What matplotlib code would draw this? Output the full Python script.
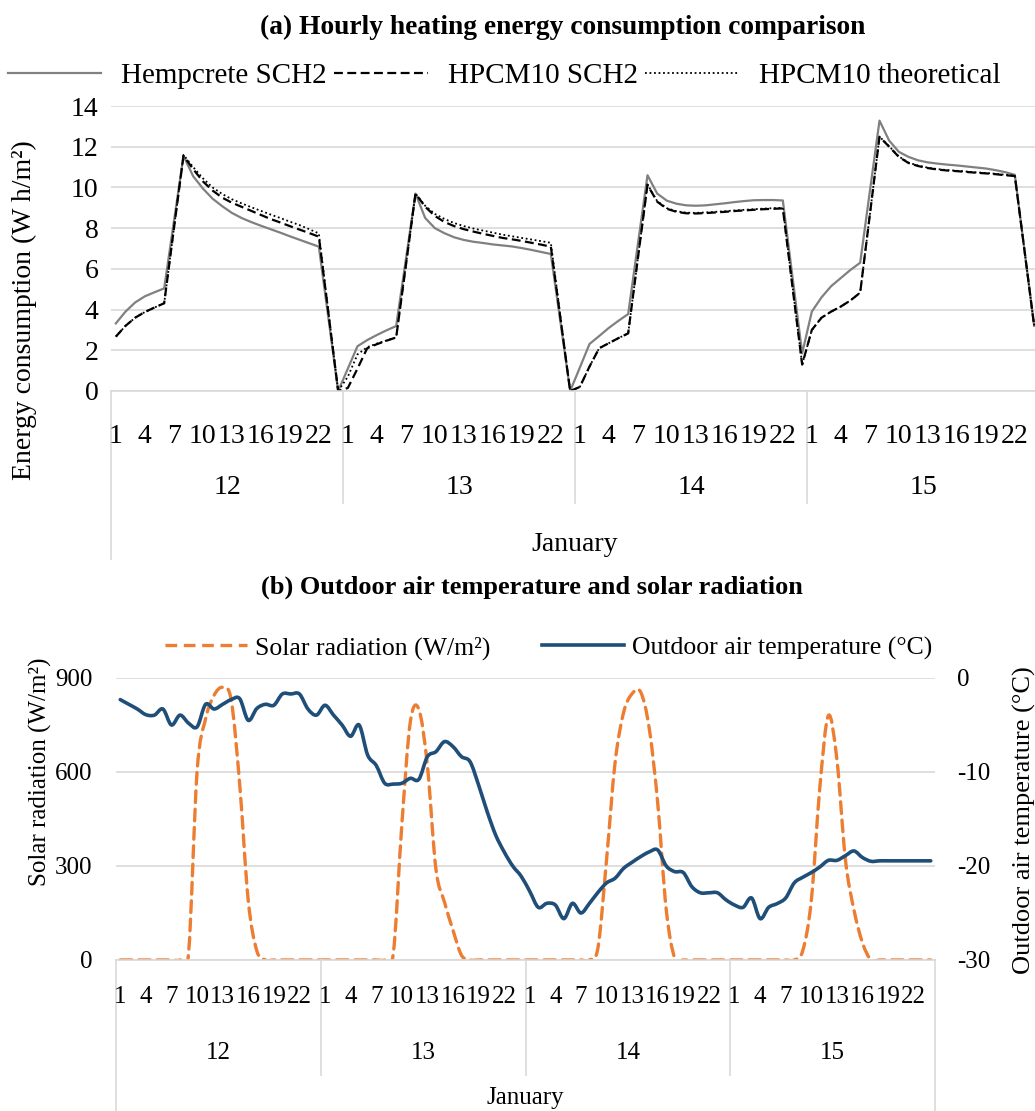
"""Hourly heating energy vs outdoor conditions, 12-15 January (two stacked panels)."""

import matplotlib.pyplot as plt
import numpy as np
from matplotlib.path import Path
from matplotlib.patches import PathPatch
from matplotlib.lines import Line2D
from matplotlib.transforms import blended_transform_factory

plt.rcParams['font.family'] = 'Liberation Serif'
plt.rcParams['axes.unicode_minus'] = False

# ---- data -------------------------------------------------------------
days = ['12', '13', '14', '15']
hour_labels = ['1', '4', '7', '10', '13', '16', '19', '22']
hour_label_idx = [0, 3, 6, 9, 12, 15, 18, 21]

hempcrete = [
    3.32, 3.9, 4.35, 4.65, 4.85, 5.04, 8.3, 11.55, 10.55, 9.95, 9.45, 9.08,
    8.75, 8.5, 8.3, 8.12, 7.95, 7.78, 7.6, 7.43, 7.26, 7.09, 3.55, 0.0,
    1.1, 2.2, 2.5, 2.75, 2.98, 3.19, 6.45, 9.7, 8.5, 8.0, 7.75, 7.55,
    7.42, 7.33, 7.27, 7.2, 7.15, 7.1, 7.02, 6.93, 6.83, 6.73, 3.37, 0.0,
    1.15, 2.31, 2.7, 3.1, 3.45, 3.78, 7.2, 10.6, 9.7, 9.35, 9.2, 9.12,
    9.1, 9.12, 9.17, 9.22, 9.28, 9.33, 9.37, 9.38, 9.38, 9.36, 5.6, 1.85,
    3.9, 4.6, 5.15, 5.55, 5.95, 6.3, 9.8, 13.28, 12.3, 11.75, 11.5, 11.33,
    11.23, 11.17, 11.12, 11.08, 11.03, 10.98, 10.93, 10.85, 10.75, 10.62, 6.9, 3.2,
]
hpcm10 = [
    2.67, 3.2, 3.6, 3.88, 4.1, 4.31, 7.95, 11.55, 10.9, 10.3, 9.85, 9.5,
    9.25, 9.05, 8.85, 8.65, 8.45, 8.28, 8.1, 7.93, 7.76, 7.58, 3.8, 0.0,
    0.15, 1.1, 2.1, 2.3, 2.47, 2.63, 6.15, 9.7, 9.05, 8.6, 8.3, 8.1,
    7.95, 7.83, 7.72, 7.62, 7.52, 7.45, 7.37, 7.28, 7.19, 7.09, 3.55, 0.0,
    0.2, 1.2, 2.1, 2.35, 2.6, 2.83, 6.5, 10.12, 9.3, 8.95, 8.8, 8.73,
    8.72, 8.74, 8.77, 8.8, 8.84, 8.87, 8.9, 8.93, 8.95, 8.97, 5.1, 1.3,
    3.0, 3.6, 3.9, 4.15, 4.45, 4.83, 8.65, 12.49, 12.0, 11.5, 11.2, 11.05,
    10.95, 10.88, 10.83, 10.8, 10.76, 10.72, 10.69, 10.65, 10.6, 10.56, 6.9, 3.2,
]
hpcm10_theoretical = [
    2.67, 3.2, 3.6, 3.88, 4.1, 4.31, 7.95, 11.6, 11.0, 10.45, 10.0, 9.68,
    9.42, 9.22, 9.03, 8.85, 8.67, 8.5, 8.32, 8.15, 7.95, 7.74, 3.87, 0.0,
    0.7, 1.8, 2.15, 2.33, 2.48, 2.63, 6.15, 9.7, 9.1, 8.7, 8.45, 8.25,
    8.1, 7.98, 7.88, 7.78, 7.68, 7.6, 7.52, 7.44, 7.36, 7.28, 3.64, 0.0,
    0.2, 1.2, 2.1, 2.35, 2.6, 2.83, 6.5, 10.15, 9.33, 8.98, 8.83, 8.76,
    8.75, 8.77, 8.8, 8.83, 8.87, 8.9, 8.93, 8.96, 8.98, 9.0, 5.15, 1.3,
    3.0, 3.6, 3.9, 4.15, 4.45, 4.83, 8.65, 12.5, 12.02, 11.52, 11.22, 11.07,
    10.97, 10.9, 10.85, 10.82, 10.78, 10.74, 10.71, 10.67, 10.62, 10.58, 6.9, 3.2,
]

solar = (
    [0] * 8 + [20, 600, 770, 845, 870, 830, 560, 190, 30] + [0] * 7
    + [0] * 8 + [20, 430, 760, 800, 620, 290, 185, 95, 15] + [0] * 7
    + [0] * 8 + [40, 320, 630, 790, 850, 855, 740, 500, 160, 5] + [0] * 6
    + [0] * 8 + [30, 190, 550, 780, 640, 320, 160, 55, 0] + [0] * 7
)
temperature = [
    -2.3, -2.8, -3.3, -3.9, -3.95, -3.3, -5.0, -3.95, -4.8, -5.2, -2.8, -3.3,
    -2.8, -2.3, -2.2, -4.5, -3.25, -2.8, -2.9, -1.7, -1.7, -1.7, -3.3, -3.95,
    -2.9, -3.95, -5.0, -6.2, -5.0, -8.2, -9.3, -11.2, -11.28, -11.2, -10.67, -10.78,
    -8.37, -7.84, -6.77, -7.3, -8.37, -8.9, -11.38, -14.2, -16.7, -18.5, -20.0, -21.1,
    -22.7, -24.4, -23.97, -24.15, -25.6, -23.97, -25.0, -23.97, -22.8, -21.8, -21.3, -20.25,
    -19.6, -19.0, -18.5, -18.3, -20.0, -20.6, -20.7, -22.2, -22.85, -22.85, -22.85, -23.6,
    -24.15, -24.4, -23.4, -25.6, -24.4, -24.0, -23.4, -21.8, -21.2, -20.7, -20.1, -19.4,
    -19.4, -18.9, -18.4, -19.1, -19.5, -19.45, -19.45, -19.45, -19.45, -19.45, -19.45, -19.45,
]

GRID = '#d9d9d9'
ORANGE = '#ED7D31'
NAVY = '#1F4E79'


def smooth_path(x, y):
    # Excel-like smoothed line: cubic bezier through every point
    n = len(x)
    verts = [(x[0], y[0])]
    codes = [Path.MOVETO]
    for k in range(n - 1):
        k0 = max(k - 1, 0)
        k3 = min(k + 2, n - 1)
        c1 = (x[k] + (x[k + 1] - x[k0]) / 6, y[k] + (y[k + 1] - y[k0]) / 6)
        c2 = (x[k + 1] - (x[k3] - x[k]) / 6, y[k + 1] - (y[k3] - y[k]) / 6)
        verts += [c1, c2, (x[k + 1], y[k + 1])]
        codes += [Path.CURVE4] * 3
    return Path(verts, codes)


def category_axis(ax, fs, y_hours, y_days, y_month, y_sep, y_edge):
    trans = blended_transform_factory(ax.transData, ax.transAxes)
    n_days = len(days)
    for d in range(n_days):
        for lab, h in zip(hour_labels, hour_label_idx):
            ax.text(d * 24 + h, y_hours, lab, transform=trans, ha='center',
                    va='center', fontsize=fs)
        ax.text(d * 24 + 11.5, y_days, days[d], transform=trans, ha='center',
                va='center', fontsize=fs)
    for d in range(n_days + 1):
        bottom = y_edge if d in (0, n_days) else y_sep
        ax.add_line(Line2D([d * 24 - 0.5] * 2, [0, bottom], transform=trans,
                           color=GRID, lw=1.2, clip_on=False))
    ax.text(0.5, y_month, 'January', transform=ax.transAxes, ha='center',
            va='center', fontsize=fs)


def style_axes(ax):
    for side in ('top', 'left', 'right'):
        ax.spines[side].set_visible(False)
    ax.spines['bottom'].set_color(GRID)
    ax.spines['bottom'].set_linewidth(1.2)
    ax.yaxis.grid(True, color=GRID, lw=1.2)
    ax.set_axisbelow(True)
    ax.set_xticks([])
    ax.tick_params(axis='y', length=0)


fig = plt.figure(figsize=(10.35, 11.11), dpi=100)
hours = np.arange(len(hempcrete))

# ---- (a) energy consumption --------------------------------------------
ax1 = fig.add_axes([111 / 1035, 1 - 391 / 1111, 928 / 1035, 285 / 1111])
style_axes(ax1)
ax1.plot(hours, hempcrete, color='#808080', lw=1.6, label='Hempcrete SCH2')
ax1.plot(hours, hpcm10, color='black', lw=1.6, dashes=(4, 2),
         label='HPCM10 SCH2')
ax1.plot(hours, hpcm10_theoretical, color='black', lw=1.3, dashes=(1, 1.5),
         label='HPCM10 theoretical')
ax1.set_xlim(-0.5, 95.5)
ax1.set_ylim(0, 14)
ax1.set_yticks(np.arange(0, 15, 2))
ax1.tick_params(axis='y', labelsize=20, pad=9)
category_axis(ax1, 20, -0.16, -0.338, -0.54, -0.393, -0.59)

fig.text(0.544, 1 - 27 / 1111, '(a) Hourly heating energy consumption comparison',
         ha='center', va='center', fontsize=19.8, fontweight='bold')
fig.text(0.024, 1 - 310 / 1111, 'Energy consumption (W h/m²)', rotation=90,
         ha='center', va='center', fontsize=20)
fig.legend(*ax1.get_legend_handles_labels(), loc='center',
           bbox_to_anchor=(0.487, 1 - 76 / 1111), ncol=3, frameon=False,
           fontsize=21, handlelength=3.2, columnspacing=0.25, handletextpad=0.7)

# ---- (b) outdoor conditions --------------------------------------------
ax2 = fig.add_axes([116 / 1035, 1 - 960 / 1111, 819 / 1035, 282 / 1111])
style_axes(ax2)
ax2.set_xlim(-0.5, 95.5)
ax2.set_ylim(0, 900)
ax2.set_yticks([0, 300, 600, 900])
ax2.tick_params(axis='y', labelsize=18, pad=17)
ax2.add_patch(PathPatch(smooth_path(hours, solar), fill=False, edgecolor=ORANGE,
                        lw=2.4, linestyle=(0, (3.5, 2)), capstyle='round'))

ax3 = ax2.twinx()
for side in ('top', 'left', 'right', 'bottom'):
    ax3.spines[side].set_visible(False)
ax3.set_ylim(-30, 0)
ax3.set_yticks([-30, -20, -10, 0])
ax3.tick_params(axis='y', length=0, labelsize=18, pad=16)
ax3.add_patch(PathPatch(smooth_path(hours, temperature), fill=False,
                        edgecolor=NAVY, lw=2.6, capstyle='round',
                        joinstyle='round'))
category_axis(ax2, 18, -0.131, -0.33, -0.488, -0.408, -0.54)

fig.text(0.514, 1 - 587 / 1111, '(b) Outdoor air temperature and solar radiation',
         ha='center', va='center', fontsize=19, fontweight='bold')
fig.text(0.039, 1 - 772 / 1111, 'Solar radiation (W/m²)', rotation=90,
         ha='center', va='center', fontsize=18)
fig.text(0.99, 1 - 820 / 1111, 'Outdoor air temperature (°C)', rotation=90,
         ha='center', va='center', fontsize=19)
handles = [Line2D([], [], color=ORANGE, lw=2.4, linestyle=(0, (3.5, 2))),
           Line2D([], [], color=NAVY, lw=2.6)]
fig.legend(handles, ['Solar radiation (W/m²)', 'Outdoor air temperature (°C)'],
           loc='center', bbox_to_anchor=(0.53, 1 - 648 / 1111), ncol=2,
           frameon=False, fontsize=18.5, handlelength=3.2, columnspacing=2.0,
           handletextpad=0.3)

fig.savefig('out.png', dpi=100, facecolor='white')
